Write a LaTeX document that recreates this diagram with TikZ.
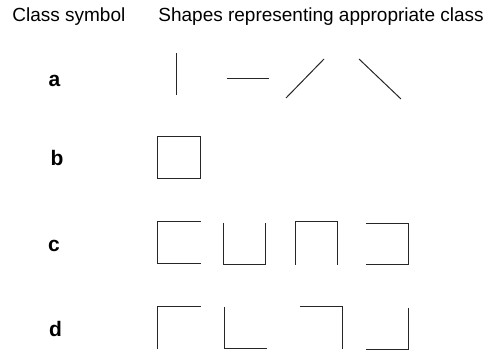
\documentclass[tikz,border=0pt]{standalone}
\usepackage{fontspec}
\setmainfont{Liberation Sans}
\begin{document}
\begin{tikzpicture}[x=0.5pt, y=-0.5pt, font=\fontsize{9.5}{11}\selectfont,
  stroke/.style={line width=0.5pt, black!85},
  classlabel/.style={font=\fontsize{10.5}{12}\selectfont\bfseries, anchor=base, inner sep=0pt}]
\useasboundingbox (0,0) rectangle (489,353);
% headings
\node[anchor=base west, inner sep=0pt] (symhead) at (12,22) {Class symbol};
\node[anchor=base west, inner sep=0pt] (shapehead) at (158,22) {Shapes representing appropriate class};
% class symbols
\node[classlabel] (a) at (54.5,87) {a};
\node[classlabel] (b) at (57,166) {b};
\node[classlabel] (c) at (54,252) {c};
\node[classlabel] (d) at (55.5,337) {d};
% class a: single strokes
\draw[stroke] (177,53) -- (177,95);
\draw[stroke] (227,79) -- (269,79);
\draw[stroke] (286,98) -- (324,59);
\draw[stroke] (359,59) -- (401,99);
% class b: closed square
\draw[stroke] (158,137) rectangle (201,179);
% class c: three sides
\draw[stroke] (201,222) -- (158,222) -- (158,264) -- (201,264);
\draw[stroke] (224,223) -- (224,265) -- (266,265) -- (266,223);
\draw[stroke] (296,265) -- (296,222) -- (338,222) -- (338,265);
\draw[stroke] (366,224) -- (409,224) -- (409,265) -- (366,265);
% class d: corners
\draw[stroke] (158,349) -- (158,307) -- (201,307);
\draw[stroke] (225,307) -- (225,349) -- (267,349);
\draw[stroke] (300,307) -- (343,307) -- (343,349);
\draw[stroke] (409,308) -- (409,350) -- (366,350);
\end{tikzpicture}
\end{document}
